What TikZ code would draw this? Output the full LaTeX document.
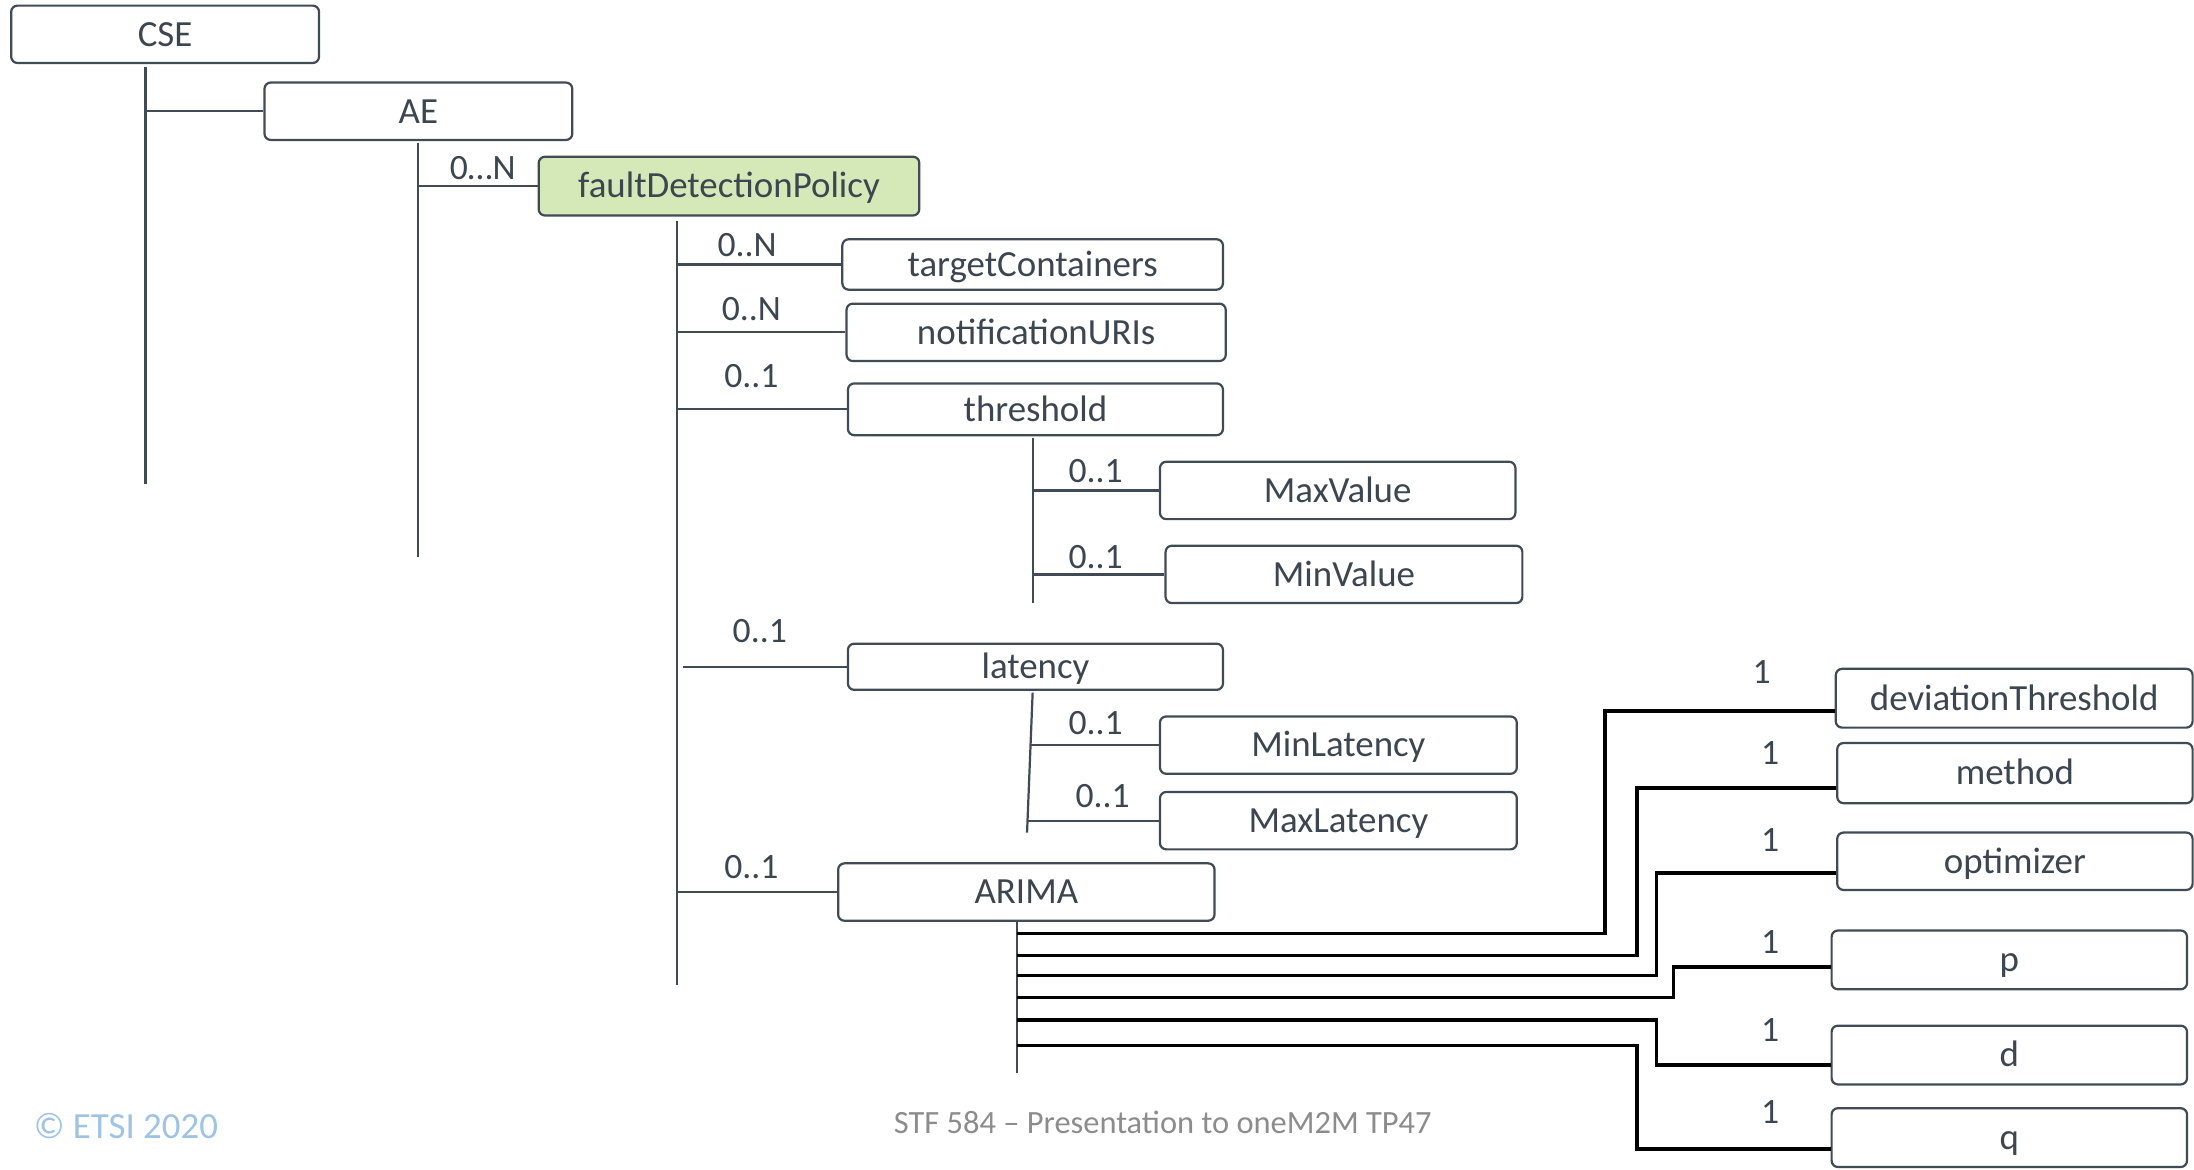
\documentclass[tikz,border=0pt]{standalone}
\usepackage{fontspec}
\setmainfont{Carlito}
\usetikzlibrary{calc}
\definecolor{boxline}{HTML}{404B55}
\definecolor{boxtext}{HTML}{3B4651}
\definecolor{fdpgreen}{HTML}{D5E8B8}
\definecolor{etsiblue}{HTML}{9DC3E6}
\definecolor{footgrey}{HTML}{8C8C8C}
\tikzset{
    res/.style={draw=boxline, line width=0.9pt, rounded corners=0.9mm, text=boxtext,
        font=\fontsize{15}{18}\selectfont, inner sep=0pt, text height=12pt, text depth=2.4pt,
        minimum height=8.2mm},
    mult/.style={text=boxtext, font=\fontsize{14.5}{17}\selectfont, inner sep=0pt},
    tree/.style={draw=boxline, line width=0.9pt},
    arima/.style={draw=black, line width=1.4pt},
}

\begin{document}
\begin{tikzpicture}[x=0.2mm, y=-0.2mm]
    \clip (0,0) rectangle (1568,836);

    % resource tree
    \node[res, minimum width=44mm] (cse) at (118,24.5) {CSE};
    \node[res, minimum width=44mm] (ae) at (299,79.5) {AE};
    \node[res, fill=fdpgreen, minimum width=54.4mm, minimum height=8.4mm] (fdp) at (521,133) {faultDetectionPolicy};
    \node[res, minimum width=54.4mm, minimum height=7.2mm] (tc) at (738,189) {targetContainers};
    \node[res, minimum width=54.2mm] (nu) at (740.5,237.5) {notificationURIs};
    \node[res, minimum width=53.6mm, minimum height=7.4mm] (thr) at (740,292.5) {threshold};
    \node[res, minimum width=50.8mm] (maxval) at (956,350.5) {MaxValue};
    \node[res, minimum width=51mm] (minval) at (960.5,410.5) {MinValue};
    \node[res, minimum width=53.6mm, minimum height=6.6mm] (lat) at (740,476.5) {latency};
    \node[res, minimum width=51mm] (minlat) at (956.5,532.5) {MinLatency};
    \node[res, minimum width=51mm] (maxlat) at (956.5,586.5) {MaxLatency};
    \node[res, minimum width=53.8mm] (arima) at (733.5,637.5) {ARIMA};

    % ARIMA attributes
    \node[res, minimum width=51mm, minimum height=8.4mm] (dev) at (1439.5,499) {deviationThreshold};
    \node[res, minimum width=50.8mm, minimum height=8.6mm] (meth) at (1440,552.5) {method};
    \node[res, minimum width=50.8mm] (opt) at (1440,615.5) {optimizer};
    \node[res, minimum width=50.8mm, minimum height=8.4mm] (pp) at (1436,686) {p};
    \node[res, minimum width=50.8mm, minimum height=8.4mm] (dd) at (1436,754) {d};
    \node[res, minimum width=50.8mm, minimum height=8.4mm] (qq) at (1436,813) {q};

    % multiplicities
    \node[mult] (aeMult) at (345,120) {0…N};
    \node[mult] (tcMult) at (534,175) {0..N};
    \node[mult] (nuMult) at (537,221) {0..N};
    \node[mult] (thrMult) at (537,269) {0..1};
    \node[mult] (maxvalMult) at (783,337) {0..1};
    \node[mult] (minvalMult) at (783,398) {0..1};
    \node[mult] (latMult) at (543,451) {0..1};
    \node[mult] (minlatMult) at (783,517) {0..1};
    \node[mult] (maxlatMult) at (788,569) {0..1};
    \node[mult] (arimaMult) at (537,620) {0..1};
    \node[mult] (devMult) at (1259,480) {1};
    \node[mult] (methMult) at (1265,538) {1};
    \node[mult] (optMult) at (1265,600) {1};
    \node[mult] (ppMult) at (1265,673) {1};
    \node[mult] (ddMult) at (1265,736) {1};
    \node[mult] (qqMult) at (1265,795) {1};

    % trunks
    \coordinate (cseTop) at (104,48);
    \coordinate (cseEnd) at (104,346);
    \coordinate (aeTop) at (299,102);
    \coordinate (aeEnd) at (299,398);
    \coordinate (fdpTop) at (484,158);
    \coordinate (fdpEnd) at (484,704);
    \coordinate (thrTop) at (738,313);
    \coordinate (thrEnd) at (738,431);
    \coordinate (latTop) at (738,495);
    \coordinate (latEnd) at (734,595);
    \coordinate (arimaTop) at (727,659);
    \coordinate (arimaEnd) at (727,767);

    \draw[tree] (cseTop) -- (cseEnd);
    \draw[tree] (aeTop) -- (aeEnd);
    \draw[tree] (fdpTop) -- (fdpEnd);
    \draw[tree] (thrTop) -- (thrEnd);
    \draw[tree] (latTop) -- (latEnd);
    \draw[tree] (arimaTop) -- (arimaEnd);

    \draw[tree] (cseTop |- ae.west) -- (ae.west); % CSE -> AE
    \draw[tree] (aeTop |- fdp.west) -- (fdp.west); % AE -> faultDetectionPolicy
    \draw[tree] (fdpTop |- tc.west) -- (tc.west);
    \draw[tree] (fdpTop |- nu.west) -- (nu.west);
    \draw[tree] (fdpTop |- thr.west) -- (thr.west);
    \draw[tree] ([xshift=0.8mm]fdpTop |- lat.west) -- (lat.west);
    \draw[tree] (fdpTop |- arima.west) -- (arima.west);
    \draw[tree] (thrTop |- maxval.west) -- (maxval.west); % threshold -> MaxValue
    \draw[tree] (thrTop |- minval.west) -- (minval.west); % threshold -> MinValue
    \draw[tree] ([xshift=-0.35mm]latTop |- minlat.west) -- (minlat.west); % latency -> MinLatency
    \draw[tree] ([xshift=-0.75mm]latTop |- maxlat.west) -- (maxlat.west); % latency -> MaxLatency

    % ARIMA -> attributes
    \coordinate (devStub) at (727,667);
    \coordinate (methStub) at (727,683);
    \coordinate (optStub) at (727,697);
    \coordinate (ppStub) at (727,713);
    \coordinate (ddStub) at (727,729);
    \coordinate (qqStub) at (727,747);
    \draw[arima] (devStub) -- ++(420,0) |- ([yshift=-1.8mm]dev.west);
    \draw[arima] (methStub) -- ++(443,0) |- ([yshift=-2.1mm]meth.west);
    \draw[arima] (optStub) -- ++(457,0) |- ([yshift=-1.7mm]opt.west);
    \draw[arima] (ppStub) -- ++(469,0) |- ([yshift=-1mm]pp.west);
    \draw[arima] (ddStub) -- ++(457,0) |- ([yshift=-1.4mm]dd.west);
    \draw[arima] (qqStub) -- ++(443,0) |- ([yshift=-1.6mm]qq.west);

    % footer
    \node[text=etsiblue, font=\fontsize{15}{18}\selectfont] (etsi) at (90,805) {© ETSI 2020};
    \node[text=footgrey, font=\fontsize{13.2}{16}\selectfont] (stf) at (831,802) {STF 584 – Presentation to oneM2M TP47};

\end{tikzpicture}
\end{document}
